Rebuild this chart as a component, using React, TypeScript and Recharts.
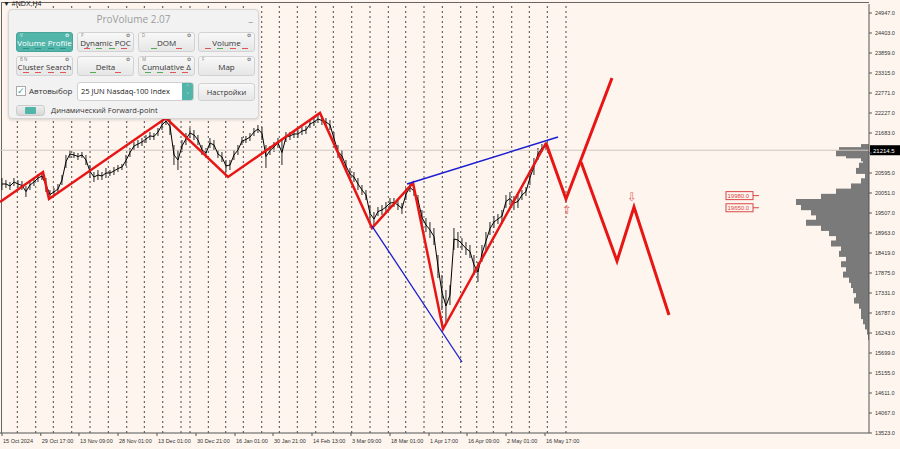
import React from 'react';
import {
  Bar,
  ComposedChart,
  Line,
  ReferenceDot,
  ReferenceLine,
  XAxis,
  YAxis,
} from 'recharts';

// H4 bars, sampled: high / low of each sample
const priceHigh = [
  20459, 20405, 20350, 20459, 20405, 20378, 20241, 20405, 20459, 20568, 20622, 20459, 20133, 20187, 20296, 20541,
  21085, 21221, 21166, 21139, 21166, 21085, 20813, 20622, 20677, 20622, 20731, 20677, 20758, 20813, 20840, 21085,
  21275, 21438, 21493, 21547, 21629, 21711, 21683, 21819, 22037, 22118, 22091, 21357, 21221, 21493, 21683, 21819,
  21765, 21629, 21357, 21275, 21547, 21493, 21221, 21166, 20949, 20949, 21221, 21357, 21574, 21601, 21683, 21819,
  21901, 21846, 21357, 21330, 21438, 21547, 21493, 21711, 21711, 21765, 21765, 21846, 21873, 22037, 22091, 22173,
  22146, 22091, 22037, 21711, 21357, 21221, 20949, 20731, 20622, 20459, 20269, 20133, 19725, 19534, 19670, 19725,
  19806, 19915, 19915, 19861, 19779, 20187, 20323, 20241, 19997, 19589, 19371, 19262, 19099, 18365, 17821, 17413,
  17549, 19099, 18990, 18827, 18718, 18637, 18365, 18174, 18637, 18990, 19262, 19426, 19480, 19589, 19997, 20078,
  19969, 19997, 20133, 20214, 20677, 21003, 21275, 21384, 21438,
];
const priceLow = [
  20133, 20187, 20133, 20241, 20187, 20133, 19942, 20133, 20241, 20350, 20405, 20078, 19888, 19969, 20024, 20269,
  20731, 21003, 21003, 20949, 21003, 20813, 20459, 20350, 20405, 20405, 20459, 20513, 20541, 20622, 20677, 20785,
  21030, 21221, 21275, 21330, 21411, 21493, 21493, 21601, 21765, 21901, 21629, 20813, 20677, 21166, 21357, 21547,
  21493, 21357, 21085, 21003, 21275, 21221, 21003, 20894, 20622, 20677, 20949, 21085, 21357, 21411, 21466, 21601,
  21683, 21493, 20731, 21085, 21166, 21275, 20813, 21438, 21493, 21547, 21547, 21629, 21656, 21819, 21873, 21955,
  21901, 21873, 21765, 21357, 21003, 20894, 20622, 20405, 20350, 20133, 19997, 19861, 19262, 19153, 19426, 19453,
  19534, 19643, 19670, 19589, 19480, 19861, 20078, 19969, 19725, 19181, 18990, 18827, 18637, 17739, 16869, 16542,
  17005, 18501, 18555, 18501, 18365, 18283, 17821, 17630, 18174, 18501, 18909, 19099, 19208, 19262, 19643, 19725,
  19589, 19643, 19861, 19969, 20269, 20541, 20949, 21166, 21221,
];

const zigTimes = [-0.5, 10.25, 11.75, 41, 56.5, 79.5, 92.5, 102.75, 110.25, 136];
const zigPrices = [19806, 20622, 19888, 22091, 20486, 22227, 19099, 20323, 16352, 21411];

const forecastATimes = [136, 141, 152.5];
const forecastAPrices = [21411, 19888, 23179];
const forecastBTimes = [144.75, 153.75, 158, 166.75];
const forecastBPrices = [20894, 18201, 19670, 16733];

const lowerChannelTimes = [92.5, 115];
const lowerChannelPrices = [19153, 15454];
const upperChannelTimes = [101.25, 139];
const upperChannelPrices = [20296, 21574];

const profilePrices = [
  21438, 21357, 21275, 21221, 21139, 21057, 20949, 20813, 20677, 20541, 20405, 20269, 20133, 19997, 19861, 19725,
  19589, 19453, 19317, 19181, 19045, 18909, 18773, 18637, 18501, 18365, 18229, 18093, 17957, 17821, 17685, 17549,
  17413, 17277, 17141, 17005, 16869, 16733, 16597, 16461,
];
const profileVolumes = [
  8, 30, 33, 23, 8, 6, 10, 13, 4, 8, 18, 33, 48, 73, 68, 58,
  53, 63, 48, 40, 33, 38, 28, 30, 23, 28, 23, 26, 20, 18, 16, 13,
  15, 10, 8, 8, 6, 4, 2, 1,
];

const weekLines = [
  3.83, 8.43, 12.83, 17.43, 22, 26.58, 31.18, 35.58, 40.18, 44.75, 47, 51.58, 55.93, 60.33, 64.93, 69.33,
  73.83, 78.43, 82.83, 87.43, 92, 96.58, 100.93, 105.5, 110.08, 114.68, 118.68, 122.83, 127.43, 131.83, 136.33, 141,
];

const dateTimes = [0, 9.7, 19.25, 29, 38.75, 48.5, 58.25, 67.75, 77.5, 87.25, 97, 106.75, 116.25, 126, 135.75];
const dateLabels = [
  '15 Oct 2024', '29 Oct 17:00', '13 Nov 09:00', '28 Nov 01:00', '13 Dec 01:00', '30 Dec 21:00',
  '16 Jan 01:00', '30 Jan 21:00', '14 Feb 13:00', '3 Mar 09:00', '18 Mar 01:00', '1 Apr 17:00',
  '16 Apr 09:00', '2 May 01:00', '16 May 17:00',
];

const priceTicks = [
  13523, 14067, 14611, 15155, 15699, 16243, 16787, 17331, 17875, 18419, 18963, 19507, 20051, 20595, 21139,
  21683, 22227, 22771, 23315, 23859, 24403, 24947,
];

const lastPrice = 21214.5;
const levelPrices = [19980, 19650];
const levelTimes = [187.75, 189.25];

const W = 900;
const H = 449;
const Y_DOMAIN: [number, number] = [13523, 25192];
const X_DOMAIN: [number, number] = [-0.5, 216.75];
const MARGIN = { top: 4, right: 0, bottom: 0, left: 0 };
const BG = '#fdf5ee';
const AXIS_FONT = '"Liberation Sans", Arial, sans-serif';

const bars = priceHigh.map((h, i) => ({
  t: i,
  range: [priceLow[i], h],
  mid: (priceLow[i] + h) / 2,
}));

const toPts = (times: number[], prices: number[]) => times.map((t, i) => ({ t, p: prices[i] }));

const profile = profilePrices.map((p, i) => ({ p, v: profileVolumes[i] }));

function DateTick({ x, y, payload }: any) {
  const idx = dateTimes.indexOf(payload.value);
  return (
    <text x={x + 1} y={y + 5} fontSize={5.5} fontFamily={AXIS_FONT} fill="#333" textAnchor="start">
      {dateLabels[idx]}
    </text>
  );
}

function PriceTick({ x, y, payload }: any) {
  if (payload.value === 21139) {
    // mostly hidden under the last-price tag
    return null;
  }
  return (
    <text x={x + 1} y={y + 2} fontSize={5.5} fontFamily={AXIS_FONT} fill="#333" textAnchor="start">
      {payload.value.toFixed(1)}
    </text>
  );
}

function LastPriceTag({ viewBox }: any) {
  const { x, y, width } = viewBox;
  return (
    <g>
      <rect x={x + width + 1} y={y - 5} width={30} height={10} fill="#000" />
      <text x={x + width + 4} y={y + 2.5} fontSize={6} fontFamily={AXIS_FONT} fill="#fff">
        {lastPrice.toFixed(1)}
      </text>
    </g>
  );
}

function LevelTag({ viewBox, value }: any) {
  const { x, y } = viewBox;
  return (
    <g>
      <rect x={x - 27} y={y - 4} width={27} height={8} fill="#fdf5ee" stroke="#d84848" strokeWidth={1} />
      <text x={x - 25.5} y={y + 2.5} fontSize={6} fontFamily={AXIS_FONT} fill="#d84848">
        {value}
      </text>
    </g>
  );
}

function ArrowMark({ cx, cy, glyph }: any) {
  return (
    <text x={cx} y={cy + 4} fontSize={12} fontFamily='"DejaVu Sans", sans-serif' fill="#e86868" textAnchor="middle">
      {glyph}
    </text>
  );
}

function ProfileRow({ x, y, width, height, fill }: any) {
  const left = width < 0 ? x + width : x;
  const cy = y + height / 2;
  return <rect x={left} y={cy - 3} width={Math.abs(width)} height={6} fill={fill} />;
}

const btnBase: React.CSSProperties = {
  position: 'absolute',
  boxSizing: 'border-box',
  height: 20,
  borderRadius: 3,
  border: '1px solid #d2d2d2',
  background: 'linear-gradient(#f8f8f8, #e6e6e6)',
  fontSize: 8,
  color: '#333',
  textAlign: 'center',
};

function PvButton({
  label, tag, left, top, active, marks,
}: { label: string; tag: string; left: number; top: number; active?: boolean; marks: string[] }) {
  return (
    <div
      style={{
        ...btnBase,
        left,
        top,
        width: 57,
        background: active ? '#52b5aa' : btnBase.background,
        border: active ? '1px solid #48a398' : btnBase.border,
        color: active ? '#fff' : '#333',
      }}
    >
      <span style={{ position: 'absolute', left: 3, top: 0, fontSize: 4.5, lineHeight: '5px', color: active ? '#e8f6f4' : '#888' }}>{tag}</span>
      <span style={{ position: 'absolute', right: 3, top: 0, fontSize: 4.5, lineHeight: '5px', color: active ? '#e8f6f4' : '#777' }}>✿</span>
      <div style={{ position: 'absolute', left: 0, right: 0, top: 5, lineHeight: '9px' }}>{label}</div>
      <div style={{ position: 'absolute', left: 3, right: 3, bottom: 2, height: 1, display: 'flex', justifyContent: 'space-around' }}>
        {marks.map((c, i) => (
          <span key={i} style={{ display: 'block', width: 6, height: 1, background: c }} />
        ))}
      </div>
    </div>
  );
}

function ProVolumePanel() {
  const font = '"Open Sans", "Noto Sans", sans-serif';
  return (
    <div
      style={{
        position: 'absolute',
        left: 8,
        top: 9,
        width: 251,
        height: 110,
        boxSizing: 'border-box',
        borderRadius: 4,
        border: '1px solid #d6d6d6',
        background: '#f2f2f2',
        boxShadow: '0 1px 3px rgba(0,0,0,0.15)',
        fontFamily: font,
      }}
    >
      <div style={{ position: 'absolute', left: 0, right: 0, top: 2, textAlign: 'center', fontSize: 10, color: '#9c9c9c' }}>
        ProVolume 2.07
      </div>
      <div style={{ position: 'absolute', right: 5, top: 0, fontSize: 10, color: '#999' }}>_</div>
      <PvButton label="Volume Profile" tag="V" left={7} top={22} active marks={['#2f8f85', '#2f8f85', '#2f8f85', '#2f8f85']} />
      <PvButton label="Dynamic POC" tag="P" left={68} top={22} marks={['#d55', '#5a5', '#5a5', '#d55']} />
      <PvButton label="DOM" tag="D" left={129} top={22} marks={['#5a5', '#d55']} />
      <PvButton label="Volume" tag="" left={189} top={22} marks={['#d55', '#5a5', '#d55', '#d55']} />
      <PvButton label="Cluster Search" tag="B N" left={7} top={46} marks={['#d55', '#d55', '#d55', '#d55']} />
      <PvButton label="Delta" tag="" left={68} top={46} marks={['#5a5', '#d55']} />
      <PvButton label="Cumulative Δ" tag="M" left={129} top={46} marks={['#5a5', '#5a5', '#d55', '#d55']} />
      <PvButton label="Map" tag="F" left={189} top={46} marks={[]} />
      <div style={{ position: 'absolute', left: 7, top: 75, fontSize: 8, color: '#333', display: 'flex', alignItems: 'center' }}>
        <span
          style={{
            display: 'inline-block', width: 8, height: 8, border: '1px solid #aaa', background: '#fff',
            color: '#3aa79b', fontSize: 9, lineHeight: '8px', textAlign: 'center', marginRight: 3,
          }}
        >
          ✓
        </span>
        Автовыбор
      </div>
      <div
        style={{
          position: 'absolute', left: 68, top: 72, width: 117, height: 19, boxSizing: 'border-box',
          border: '1px solid #d0d0d0', borderRadius: 3, background: '#fff', fontSize: 7.5, color: '#222',
          lineHeight: '17px', paddingLeft: 3,
        }}
      >
        25 JUN Nasdaq-100 Index
        <div
          style={{
            position: 'absolute', right: 0, top: 0, width: 11, height: 17, background: '#52b5aa',
            borderRadius: '0 2px 2px 0', color: '#fff', fontSize: 6, lineHeight: '8px', textAlign: 'center',
          }}
        >
          ˄<br />˅
        </div>
      </div>
      <div style={{ ...btnBase, left: 189, top: 73, width: 57, height: 18, lineHeight: '16px', fontSize: 7.5 }}>Настройки</div>
      <div
        style={{
          position: 'absolute', left: 7, top: 95, width: 29, height: 11, borderRadius: 3,
          background: 'linear-gradient(#eee, #d8d8d8)', border: '1px solid #ccc', boxSizing: 'border-box',
        }}
      >
        <div style={{ position: 'absolute', left: 8, top: 1, width: 11, height: 7, background: '#52b5aa', borderRadius: 1 }} />
      </div>
      <div style={{ position: 'absolute', left: 42, top: 95, fontSize: 7.5, color: '#333', lineHeight: '11px' }}>
        Динамический Forward-point
      </div>
    </div>
  );
}

export default function App() {
  return (
    <div style={{ position: 'relative', width: W, height: H, background: BG, overflow: 'hidden' }}>
      <style>{'body{margin:0}'}</style>
      <div
        style={{
          position: 'absolute', left: 1, top: 2, width: 868, height: 431,
          borderTop: '1px solid #666', borderLeft: '1px solid #666', boxSizing: 'border-box',
        }}
      />
      <div style={{ position: 'absolute', left: 3, top: 0, fontSize: 7, fontFamily: AXIS_FONT, color: '#222' }}>▼ #NDX,H4</div>

      <div style={{ position: 'absolute', left: 0, top: 0 }}>
        <ComposedChart width={W} height={H} data={profile} layout="vertical" margin={MARGIN}>
          <XAxis type="number" dataKey="v" domain={[0, 869]} reversed hide allowDataOverflow />
          <YAxis type="number" dataKey="p" domain={Y_DOMAIN} reversed hide allowDataOverflow />
          <YAxis yAxisId="pad" orientation="right" width={31} tick={false} axisLine={false} tickLine={false} />
          <Bar dataKey="v" fill="#7a7a7a" barSize={6} shape={(p: any) => <ProfileRow {...p} />} isAnimationActive={false} />
        </ComposedChart>
      </div>

      <div style={{ position: 'absolute', left: 0, top: 0 }}>
        <ComposedChart width={W} height={H} data={bars} margin={MARGIN}>
          <XAxis
            type="number"
            dataKey="t"
            domain={X_DOMAIN}
            ticks={dateTimes}
            interval={0}
            height={16}
            tick={<DateTick />}
            tickSize={3}
            stroke="#555"
            allowDataOverflow
          />
          <YAxis
            type="number"
            orientation="right"
            domain={Y_DOMAIN}
            ticks={priceTicks}
            interval={0}
            width={31}
            tick={<PriceTick />}
            tickSize={3}
            stroke="#555"
            allowDataOverflow
          />

          {weekLines.map((t) => (
            <ReferenceLine key={t} x={t} stroke="#4a4a4a" strokeDasharray="2 3" strokeWidth={1} />
          ))}
          <ReferenceLine y={lastPrice} stroke="#cfc6c0" strokeWidth={1} label={<LastPriceTag />} />

          <Bar dataKey="range" fill="#111" barSize={2} isAnimationActive={false} />
          <Line dataKey="mid" stroke="#000" strokeWidth={1} dot={false} isAnimationActive={false} />

          <Line data={toPts(zigTimes, zigPrices)} dataKey="p" stroke="#e81515" strokeWidth={2.5} dot={false} isAnimationActive={false} />
          <Line data={toPts(lowerChannelTimes, lowerChannelPrices)} dataKey="p" stroke="#1c1cd0" strokeWidth={1.3} dot={false} isAnimationActive={false} />
          <Line data={toPts(upperChannelTimes, upperChannelPrices)} dataKey="p" stroke="#1c1cd0" strokeWidth={1.5} dot={false} isAnimationActive={false} />
          <Line data={toPts(forecastATimes, forecastAPrices)} dataKey="p" stroke="#e81515" strokeWidth={3} dot={false} isAnimationActive={false} />
          <Line data={toPts(forecastBTimes, forecastBPrices)} dataKey="p" stroke="#e81515" strokeWidth={3} dot={false} isAnimationActive={false} />

          {levelPrices.map((lv) => (
            <ReferenceLine
              key={lv}
              segment={[{ x: levelTimes[0], y: lv }, { x: levelTimes[1], y: lv }]}
              stroke="#d84848"
              strokeWidth={1}
              label={<LevelTag value={lv.toFixed(1)} />}
            />
          ))}

          <ReferenceDot x={141.25} y={19589} r={1} shape={(p: any) => <ArrowMark {...p} glyph="⇧" />} />
          <ReferenceDot x={157.5} y={19942} r={1} shape={(p: any) => <ArrowMark {...p} glyph="⇩" />} />
        </ComposedChart>
      </div>

      <ProVolumePanel />
    </div>
  );
}
